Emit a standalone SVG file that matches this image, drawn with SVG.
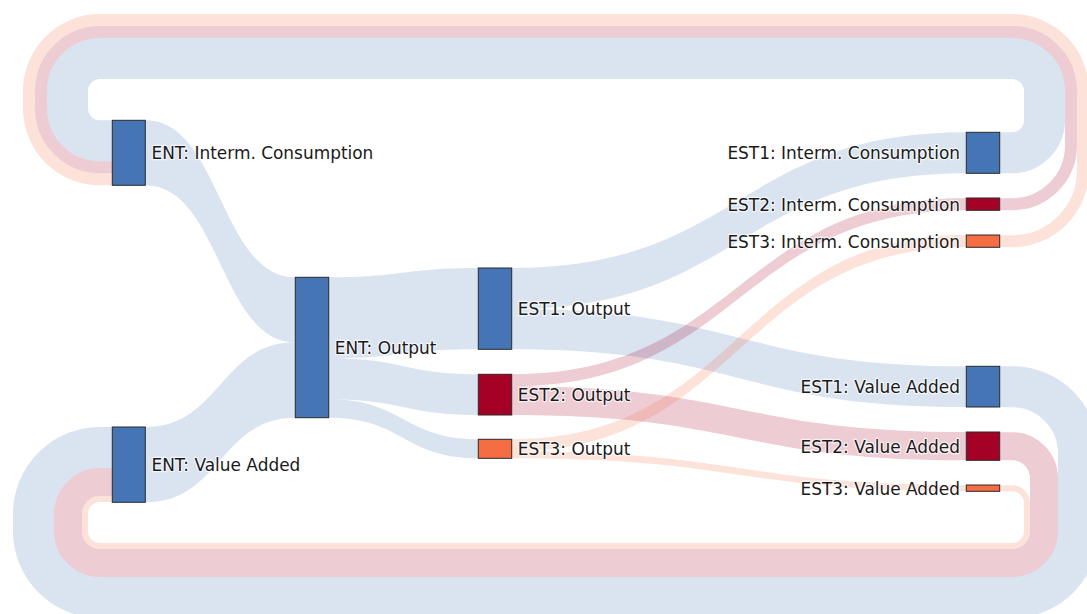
<svg xmlns="http://www.w3.org/2000/svg" width="1087" height="614" viewBox="0 0 1087 614">
<style>
.lb{fill:rgba(69,117,180,0.2)}
.lr{fill:rgba(165,0,38,0.2)}
.lo{fill:rgba(244,109,67,0.2)}
.cb{fill:none;stroke:rgba(69,117,180,0.2)}
.cr{fill:none;stroke:rgba(165,0,38,0.2)}
.co{fill:none;stroke:rgba(244,109,67,0.2)}
.n rect{stroke:#2a2a2a;stroke-width:1}
.nb{fill:#4575b4}
.nr{fill:#a50026}
.no{fill:#f46d43}
text{font-family:"DejaVu Sans",Verdana,sans-serif;font-size:16.95px;fill:#1a1a1a;stroke:#fff;stroke-opacity:0.7;stroke-width:2.5px;paint-order:stroke;stroke-linejoin:round}
.e{text-anchor:end}
</style>
<rect width="1087" height="614" fill="#fff"/>
<g id="connectors">
<path class="cb" stroke-width="41" d="M999.7 152.8 L1012 152.8 A32.5 32.5 0 0 0 1044.5 120.3 L1044.5 91 A32.5 32.5 0 0 0 1012 58.5 L100 58.5 A32.5 32.5 0 0 0 67.5 91 L67.5 108.3 A32.5 32.5 0 0 0 100 140.8 L112 140.8"/>
<path class="cr" stroke-width="12" d="M999.7 204.2 L1012 204.2 A59 59 0 0 0 1071 145.2 L1071 91 A59 59 0 0 0 1012 32 L100 32 A59 59 0 0 0 41 91 L41 108.3 A59 59 0 0 0 100 167.3 L112 167.3"/>
<path class="co" stroke-width="12" d="M999.7 241.2 L1012 241.2 A71 71 0 0 0 1083 170.2 L1083 91 A71 71 0 0 0 1012 20 L100 20 A71 71 0 0 0 29 91 L29 108.3 A71 71 0 0 0 100 179.3 L112 179.3"/>
<path class="cb" stroke-width="41" d="M999.7 386.7 L1012 386.7 A66.5 66.5 0 0 1 1078.5 453.2 L1078.5 531 A66.5 66.5 0 0 1 1012 597.5 L100 597.5 A66.5 66.5 0 0 1 33.5 531 L33.5 514 A66.5 66.5 0 0 1 100 447.5 L112 447.5"/>
<path class="cr" stroke-width="28" d="M999.7 446.2 L1012 446.2 A32 32 0 0 1 1044 478.2 L1044 531 A32 32 0 0 1 1012 563 L100 563 A32 32 0 0 1 68 531 L68 514 A32 32 0 0 1 100 482 L112 482"/>
<path class="co" stroke-width="6" d="M999.7 488.2 L1012 488.2 A15 15 0 0 1 1027 503.2 L1027 531 A15 15 0 0 1 1012 546 L100 546 A15 15 0 0 1 85 531 L85 514 A15 15 0 0 1 100 499 L112 499"/>
<path class="lb" d="M145.3 120.3 C220.3 120.3 220.3 277.3 295.3 277.3 L295.3 342.3 C220.3 342.3 220.3 185.3 145.3 185.3 Z"/>
<path class="lb" d="M145.3 427 C220.3 427 220.3 342.3 295.3 342.3 L295.3 417.7 C220.3 417.7 220.3 502.3 145.3 502.3 Z"/>
<path class="lb" d="M328.7 277.3 C403.5 277.3 403.5 268 478.3 268 L478.3 349.3 C403.5 349.3 403.5 358.3 328.7 358.3 Z"/>
<path class="lb" d="M328.7 358.3 C403.5 358.3 403.5 374.3 478.3 374.3 L478.3 415 C403.5 415 403.5 399.3 328.7 399.3 Z"/>
<path class="lb" d="M328.7 399.3 C403.5 399.3 403.5 439.3 478.3 439.3 L478.3 458.3 C403.5 458.3 403.5 417.7 328.7 417.7 Z"/>
<path class="lb" d="M511.7 268 C739 268 739 132.3 966.3 132.3 L966.3 173.3 C739 173.3 739 309 511.7 309 Z"/>
<path class="lb" d="M511.7 309 C739 309 739 366.3 966.3 366.3 L966.3 407 C739 407 739 349.3 511.7 349.3 Z"/>
<path class="lr" d="M511.7 374.3 C739 374.3 739 198 966.3 198 L966.3 210.3 C739 210.3 739 386.3 511.7 386.3 Z"/>
<path class="lr" d="M511.7 386.3 C739 386.3 739 432 966.3 432 L966.3 460.3 C739 460.3 739 415 511.7 415 Z"/>
<path class="lo" d="M511.7 439.3 C739 439.3 739 235 966.3 235 L966.3 247.3 C739 247.3 739 451.3 511.7 451.3 Z"/>
<path class="lo" d="M511.7 451.3 C739 451.3 739 485 966.3 485 L966.3 491.3 C739 491.3 739 458.3 511.7 458.3 Z"/>
</g>
<g id="ent-ic" class="n"><rect class="nb" x="112.3" y="120.3" width="33" height="65"/><text x="151.5" y="159.3">ENT: Interm. Consumption</text></g>
<g id="ent-va" class="n"><rect class="nb" x="112.3" y="427" width="33" height="75.3"/><text x="151.5" y="471.2">ENT: Value Added</text></g>
<g id="ent-out" class="n"><rect class="nb" x="295.3" y="277.3" width="33.4" height="140.4"/><text x="334.7" y="354">ENT: Output</text></g>
<g id="est1-out" class="n"><rect class="nb" x="478.3" y="268" width="33.4" height="81.3"/><text x="517.8" y="315">EST1: Output</text></g>
<g id="est2-out" class="n"><rect class="nr" x="478.3" y="374.3" width="33.4" height="40.7"/><text x="517.8" y="401">EST2: Output</text></g>
<g id="est3-out" class="n"><rect class="no" x="478.3" y="439.3" width="33.4" height="19"/><text x="517.8" y="455.3">EST3: Output</text></g>
<g id="est1-ic" class="n"><rect class="nb" x="966.3" y="132.3" width="33.4" height="41"/><text class="e" x="960" y="159.3">EST1: Interm. Consumption</text></g>
<g id="est2-ic" class="n"><rect class="nr" x="966.3" y="198" width="33.4" height="12.3"/><text class="e" x="960" y="210.6">EST2: Interm. Consumption</text></g>
<g id="est3-ic" class="n"><rect class="no" x="966.3" y="235" width="33.4" height="12.3"/><text class="e" x="960" y="247.6">EST3: Interm. Consumption</text></g>
<g id="est1-va" class="n"><rect class="nb" x="966.3" y="366.3" width="33.4" height="40.7"/><text class="e" x="960" y="393.1">EST1: Value Added</text></g>
<g id="est2-va" class="n"><rect class="nr" x="966.3" y="432" width="33.4" height="28.3"/><text class="e" x="960" y="452.6">EST2: Value Added</text></g>
<g id="est3-va" class="n"><rect class="no" x="966.3" y="485" width="33.4" height="6.3"/><text class="e" x="960" y="494.6">EST3: Value Added</text></g>
</svg>
